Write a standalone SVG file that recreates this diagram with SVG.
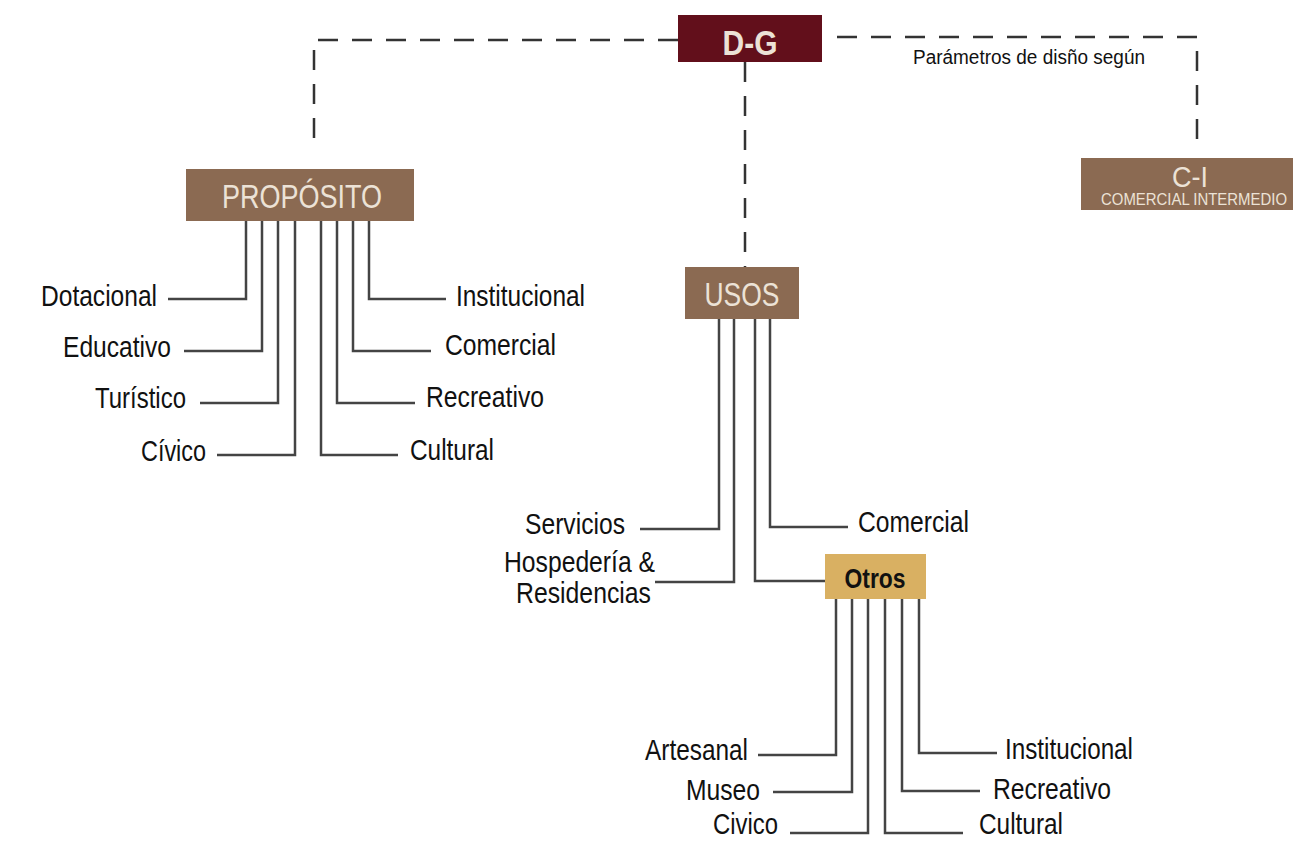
<svg xmlns="http://www.w3.org/2000/svg" width="1293" height="841" viewBox="0 0 1293 841">
<style>
text{font-family:"Liberation Sans Narrow","Liberation Sans",Arial,sans-serif;}
.lbl{font-size:29px;fill:#111;}
.hd{fill:#ece2d6;}
.ln{fill:none;stroke:#444;stroke-width:2.5;}
.dash{fill:none;stroke:#333;stroke-width:2.5;stroke-dasharray:20 14;}
</style>
<rect width="1293" height="841" fill="#fff"/>
<g id="connectors">
<path class="dash" d="M678 40 H314 V148"/>
<path class="dash" d="M837 37 H1197 V152"/>
<path class="dash" d="M745 62 V267"/>
<path class="ln" d="M246 221 V299 H168 M262 221 V351 H184 M278 221 V403 H200 M295 221 V455 H217"/>
<path class="ln" d="M321 221 V455 H398 M337 221 V403 H415 M353 221 V351 H431 M369 221 V299 H446"/>
<path class="ln" d="M719 319 V529 H640 M734 319 V582 H655 M755 319 V581 H825 M770 319 V527 H848"/>
<path class="ln" d="M836 599 V755 H758 M852 599 V792 H773 M868 599 V833 H790 M885 599 V833 H963 M902 599 V791 H980 M919 599 V753 H997"/>
</g>
<g id="dg"><rect x="678" y="15" width="144" height="47" fill="#620f1b"/><text class="hd" x="750" y="55" font-size="35" font-weight="bold" text-anchor="middle" textLength="55" lengthAdjust="spacingAndGlyphs">D-G</text></g>
<g id="parametros"><text x="913" y="64" font-size="20" fill="#111" textLength="232" lengthAdjust="spacingAndGlyphs">Parámetros de disño según</text></g>
<g id="ci"><rect x="1081" y="158" width="212" height="52" fill="#8b6a52"/><text class="hd" x="1190" y="187" font-size="30" text-anchor="middle" textLength="36" lengthAdjust="spacingAndGlyphs">C-I</text><text class="hd" x="1194" y="205" font-size="17" text-anchor="middle" textLength="186" lengthAdjust="spacingAndGlyphs">COMERCIAL INTERMEDIO</text></g>
<g id="proposito"><rect x="186" y="169" width="228" height="52" fill="#8b6a52"/><text class="hd" x="302" y="208" font-size="33" text-anchor="middle" textLength="160" lengthAdjust="spacingAndGlyphs">PROPÓSITO</text></g>
<g id="usos"><rect x="685" y="267" width="114" height="52" fill="#8b6a52"/><text class="hd" x="742" y="306" font-size="33" text-anchor="middle" textLength="75" lengthAdjust="spacingAndGlyphs">USOS</text></g>
<g id="otros"><rect x="825" y="554" width="101" height="45" fill="#d9b062"/><text x="875" y="588" font-size="27" font-weight="bold" fill="#111" text-anchor="middle" textLength="61" lengthAdjust="spacingAndGlyphs">Otros</text></g>
<g id="p-dotacional"><text class="lbl" x="157" y="306" text-anchor="end" textLength="116" lengthAdjust="spacingAndGlyphs">Dotacional</text></g>
<g id="p-educativo"><text class="lbl" x="171" y="357" text-anchor="end" textLength="108" lengthAdjust="spacingAndGlyphs">Educativo</text></g>
<g id="p-turistico"><text class="lbl" x="186" y="408" text-anchor="end" textLength="91" lengthAdjust="spacingAndGlyphs">Turístico</text></g>
<g id="p-civico"><text class="lbl" x="206" y="461" text-anchor="end" textLength="65" lengthAdjust="spacingAndGlyphs">Cívico</text></g>
<g id="p-institucional"><text class="lbl" x="456" y="306" textLength="129" lengthAdjust="spacingAndGlyphs">Institucional</text></g>
<g id="p-comercial"><text class="lbl" x="445" y="355" textLength="111" lengthAdjust="spacingAndGlyphs">Comercial</text></g>
<g id="p-recreativo"><text class="lbl" x="426" y="407" textLength="118" lengthAdjust="spacingAndGlyphs">Recreativo</text></g>
<g id="p-cultural"><text class="lbl" x="410" y="460" textLength="84" lengthAdjust="spacingAndGlyphs">Cultural</text></g>
<g id="u-servicios"><text class="lbl" x="625" y="534" text-anchor="end" textLength="100" lengthAdjust="spacingAndGlyphs">Servicios</text></g>
<g id="u-hospederia"><text class="lbl" x="504" y="572" textLength="151" lengthAdjust="spacingAndGlyphs">Hospedería &amp;</text><text class="lbl" x="516" y="603" textLength="135" lengthAdjust="spacingAndGlyphs">Residencias</text></g>
<g id="u-comercial"><text class="lbl" x="858" y="532" textLength="111" lengthAdjust="spacingAndGlyphs">Comercial</text></g>
<g id="o-artesanal"><text class="lbl" x="748" y="760" text-anchor="end" textLength="103" lengthAdjust="spacingAndGlyphs">Artesanal</text></g>
<g id="o-museo"><text class="lbl" x="760" y="800" text-anchor="end" textLength="74" lengthAdjust="spacingAndGlyphs">Museo</text></g>
<g id="o-civico"><text class="lbl" x="778" y="834" font-size="28" text-anchor="end" textLength="65" lengthAdjust="spacingAndGlyphs">Civico</text></g>
<g id="o-institucional"><text class="lbl" x="1005" y="759" textLength="128" lengthAdjust="spacingAndGlyphs">Institucional</text></g>
<g id="o-recreativo"><text class="lbl" x="993" y="799" textLength="118" lengthAdjust="spacingAndGlyphs">Recreativo</text></g>
<g id="o-cultural"><text class="lbl" x="979" y="834" font-size="28" textLength="84" lengthAdjust="spacingAndGlyphs">Cultural</text></g>
</svg>
